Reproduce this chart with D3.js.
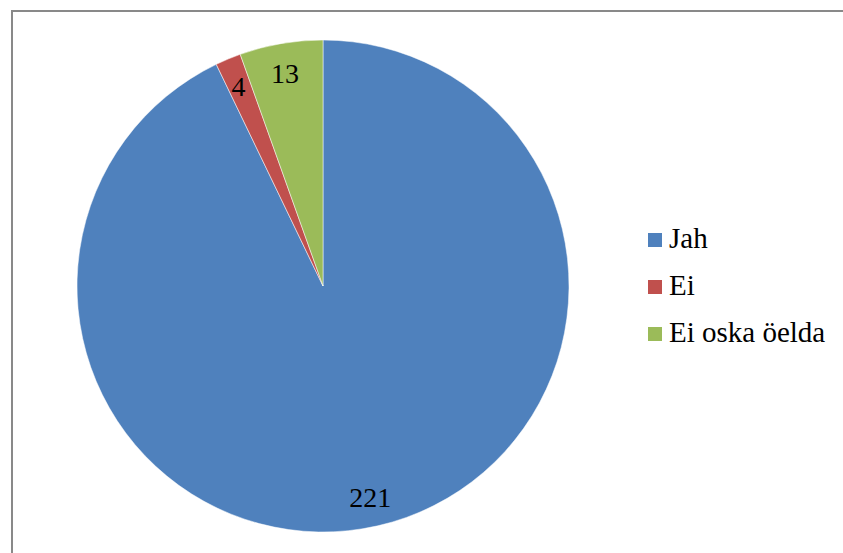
<!DOCTYPE html>
<html>
<head>
<meta charset="utf-8">
<script src="https://cdn.jsdelivr.net/npm/d3@7"></script>
<style>
  body { margin: 0; background: #fff; }
</style>
</head>
<body>
<script>
// data
var categories = ["Jah", "Ei", "Ei oska öelda"];
var values = [221, 4, 13];
var colors = ["#4F81BD", "#C0504D", "#9BBB59"];

var w = 843, h = 553;
var cx = 323, cy = 286, r = 246;
var fontFam = "'Liberation Serif', Tinos, serif";

var svg = d3.select("body").append("svg")
    .attr("width", w)
    .attr("height", h);

// chart frame (only left + top visible in the crop)
svg.append("path")
    .attr("d", "M12,553 L12,11 L843,11")
    .attr("fill", "none")
    .attr("stroke", "#898989")
    .attr("stroke-width", 2);

var data = categories.map(function(c, i) { return { name: c, value: values[i], color: colors[i] }; });

var pie = d3.pie().sort(null).value(function(d) { return d.value; });
var arc = d3.arc().innerRadius(0).outerRadius(r);
var labelArc = d3.arc().innerRadius(r * 0.88).outerRadius(r * 0.88);

var g = svg.append("g").attr("transform", "translate(" + cx + "," + cy + ")");

g.selectAll("path.slice")
    .data(pie(data))
    .enter()
    .append("path")
    .attr("class", "slice")
    .attr("d", arc)
    .attr("fill", function(d) { return d.data.color; })
    .attr("stroke", "#fff")
    .attr("stroke-width", 0.5);

g.selectAll("text.lbl")
    .data(pie(data))
    .enter()
    .append("text")
    .attr("class", "lbl")
    .attr("x", function(d) { return labelArc.centroid(d)[0] - 1; })
    .attr("y", function(d) { return labelArc.centroid(d)[1] + 10; })
    .attr("text-anchor", "middle")
    .style("font-family", fontFam)
    .style("font-size", "28px")
    .text(function(d) { return d.data.value; });

// legend
var legend = svg.append("g").attr("transform", "translate(648,233)");
var rows = legend.selectAll("g")
    .data(data)
    .enter()
    .append("g")
    .attr("transform", function(d, i) { return "translate(0," + (i * 47) + ")"; });

rows.append("rect")
    .attr("width", 14)
    .attr("height", 14)
    .attr("fill", function(d) { return d.color; });

rows.append("text")
    .attr("x", 21)
    .attr("y", 15)
    .style("font-family", fontFam)
    .style("font-size", "29px")
    .text(function(d) { return d.name; });
</script>
</body>
</html>
